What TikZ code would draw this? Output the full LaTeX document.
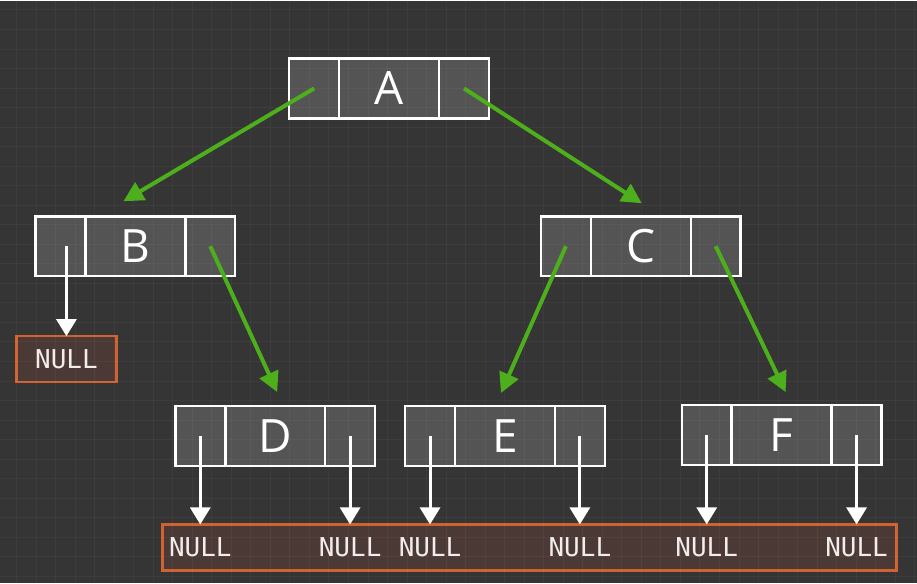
\documentclass[tikz,border=0pt]{standalone}
\usepackage{fontspec}
\setmainfont{Open Sans}
\newfontfamily\nullmono{DejaVu Sans Mono}
\usepackage{xcolor}
\usepackage{tikz}
\usetikzlibrary{arrows.meta,calc,positioning}

\definecolor{bggray}{HTML}{353535}
\definecolor{cellgray}{HTML}{545454}
\definecolor{nullorange}{HTML}{D0622F}
\definecolor{nullfill}{HTML}{4A3935}
\definecolor{nullwhite}{HTML}{F2ECEC}
\definecolor{linkgreen}{HTML}{4DAF1B}

\tikzset{
	cell/.style={draw=white, line width=2.5pt, fill=cellgray, minimum width=50pt, minimum height=60pt, inner sep=0pt, outer sep=0pt},
	key/.style={cell, minimum width=100pt, text=white, font=\fontsize{46}{46}\selectfont},
	nullbox/.style={draw=nullorange, line width=2.5pt, fill=nullfill, minimum height=46pt, inner sep=0pt, outer sep=0pt},
	nulltext/.style={text=nullwhite, font=\nullmono\fontsize{26}{26}\selectfont},
	gridline/.style={white, opacity=0.04, line width=1pt},
	link/.style={draw=linkgreen, line width=4pt, -{Triangle[length=20pt,width=20pt]}},
	nullptr/.style={draw=white, line width=3pt, -{Triangle[length=17pt,width=20pt]}}
}

\begin{document}
\begin{tikzpicture}[x=1pt,y=-1pt]
				\fill[bggray] (0,0) rectangle (917,583);
				% tree nodes
				\node[key] (A) at (389,88) {A};
				\node[cell, left=0pt of A] (A-l) {};
				\node[cell, right=0pt of A] (A-r) {};
				\node[key] (B) at (135,246) {B};
				\node[cell, left=0pt of B] (B-l) {};
				\node[cell, right=0pt of B] (B-r) {};
				\node[key] (C) at (641,246) {C};
				\node[cell, left=0pt of C] (C-l) {};
				\node[cell, right=0pt of C] (C-r) {};
				\node[key] (D) at (275,436) {D};
				\node[cell, left=0pt of D] (D-l) {};
				\node[cell, right=0pt of D] (D-r) {};
				\node[key] (E) at (505,436) {E};
				\node[cell, left=0pt of E] (E-l) {};
				\node[cell, right=0pt of E] (E-r) {};
				\node[key] (F) at (782,435) {F};
				\node[cell, left=0pt of F] (F-l) {};
				\node[cell, right=0pt of F] (F-r) {};
				% null boxes
				\node[nullbox, minimum width=100pt] (nullB) at (66,359) {};
				\node[nulltext] (B-nl) at (nullB) {NULL};
				\node[nullbox, minimum width=735pt] (nulls) at (529.5,547.5) {};
				\node[nulltext] (D-nl) at (D-l |- nulls) {NULL};
				\node[nulltext] (D-nr) at (D-r |- nulls) {NULL};
				\node[nulltext] (E-nl) at (E-l |- nulls) {NULL};
				\node[nulltext] (E-nr) at (E-r |- nulls) {NULL};
				\node[nulltext] (F-nl) at (F-l |- nulls) {NULL};
				\node[nulltext] (F-nr) at (F-r |- nulls) {NULL};
				% faint grid over everything
				\foreach \gx in {0,...,46}
					\draw[gridline] ({16+19.55*\gx},0) -- ++(0,583);
				\foreach \gy in {0,...,29}
					\draw[gridline] (0,{9.5+19.55*\gy}) -- ++(917,0);
				% child links
				\draw[link] (A-l.center) to ($(B.north)+(-12,-15)$);
				\draw[link] (A-r.center) to ($(C.north)+(1,-13)$);
				\draw[link] (B-r.center) to ($(D.north)+(2,-14)$);
				\draw[link] (C-l.center) to ($(E.north)+(-4,-13)$);
				\draw[link] (C-r.center) to ($(F.north)+(4,-13)$);
				% null pointers
				\draw[nullptr] (nullB |- B-l.center) to (nullB.north);
				\draw[nullptr] (D-l.center) to (D-l.center |- nulls.north);
				\draw[nullptr] (D-r.center) to (D-r.center |- nulls.north);
				\draw[nullptr] (E-l.center) to (E-l.center |- nulls.north);
				\draw[nullptr] (E-r.center) to (E-r.center |- nulls.north);
				\draw[nullptr] (F-l.center) to (F-l.center |- nulls.north);
				\draw[nullptr] (F-r.center) to (F-r.center |- nulls.north);
	\end{tikzpicture}
\end{document}
